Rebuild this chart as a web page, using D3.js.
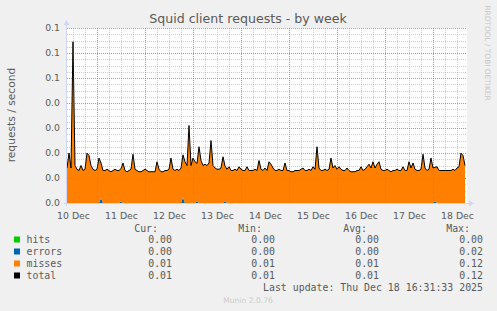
<!DOCTYPE html>
<html>
<head>
<meta charset="utf-8">
<script src="https://cdn.jsdelivr.net/npm/d3@7"></script>
<style>
  body { margin: 0; background: #f0f0f0; }
  svg { display: block; }
  text { font-family: "DejaVu Sans", sans-serif; fill: #5a5a5a; }
  .mono { font-family: "DejaVu Sans Mono", monospace; }
</style>
</head>
<body>
<svg id="chart" width="497" height="311"></svg>
<script>
// samples are one hour apart, first one at 10 Dec 09:00
var startTime = Date.UTC(2025, 11, 10, 9, 0, 0);
var endTime = Date.UTC(2025, 11, 18, 17, 0, 0);

var misses = [
	0.028, 0.040, 0.028, 0.129, 0.030, 0.027, 0.026, 0.030, 0.026, 0.027,
	0.040, 0.038, 0.030, 0.027, 0.026, 0.027, 0.036, 0.028, 0.026, 0.026,
	0.027, 0.026, 0.025, 0.026, 0.027, 0.026, 0.026, 0.026, 0.032, 0.026,
	0.025, 0.026, 0.027, 0.039, 0.027, 0.026, 0.025, 0.025, 0.026, 0.027,
	0.026, 0.025, 0.025, 0.025, 0.025, 0.033, 0.027, 0.025, 0.025, 0.026,
	0.026, 0.027, 0.036, 0.027, 0.026, 0.027, 0.026, 0.028, 0.034, 0.033,
	0.030, 0.062, 0.030, 0.036, 0.033, 0.030, 0.045, 0.034, 0.030, 0.031,
	0.030, 0.032, 0.050, 0.030, 0.028, 0.027, 0.027, 0.028, 0.037, 0.028,
	0.027, 0.029, 0.026, 0.026, 0.027, 0.026, 0.029, 0.027, 0.026, 0.026,
	0.029, 0.026, 0.026, 0.026, 0.027, 0.026, 0.034, 0.027, 0.026, 0.028,
	0.026, 0.033, 0.031, 0.028, 0.026, 0.026, 0.027, 0.026, 0.026, 0.032,
	0.026, 0.026, 0.025, 0.025, 0.026, 0.026, 0.026, 0.027, 0.028, 0.026,
	0.026, 0.027, 0.026, 0.029, 0.027, 0.045, 0.028, 0.026, 0.026, 0.027,
	0.026, 0.027, 0.036, 0.028, 0.030, 0.027, 0.029, 0.027, 0.026, 0.026,
	0.028, 0.026, 0.025, 0.025, 0.025, 0.026, 0.026, 0.029, 0.026, 0.027,
	0.029, 0.031, 0.028, 0.033, 0.028, 0.031, 0.033, 0.027, 0.026, 0.026,
	0.027, 0.026, 0.025, 0.026, 0.026, 0.027, 0.026, 0.026, 0.029, 0.026,
	0.026, 0.033, 0.028, 0.032, 0.027, 0.026, 0.026, 0.027, 0.039, 0.028,
	0.026, 0.027, 0.036, 0.028, 0.027, 0.029, 0.026, 0.026, 0.026, 0.026,
	0.026, 0.026, 0.026, 0.027, 0.026, 0.028, 0.029, 0.040, 0.038, 0.030
];
var errors = [
	0, 0, 0, 0, 0, 0, 0, 0, 0, 0, 0, 0, 0, 0, 0, 0, 0, 0.004, 0, 0,
	0, 0, 0, 0, 0, 0, 0, 0.0015, 0, 0, 0, 0, 0, 0, 0, 0, 0, 0, 0, 0,
	0, 0, 0, 0, 0, 0, 0, 0, 0, 0, 0, 0, 0, 0, 0, 0, 0, 0, 0.0045, 0,
	0, 0, 0, 0, 0, 0.0016, 0, 0, 0, 0, 0, 0, 0, 0, 0, 0, 0, 0, 0, 0.0016,
	0, 0, 0, 0, 0, 0, 0, 0, 0, 0, 0, 0, 0, 0, 0, 0, 0, 0, 0, 0,
	0, 0, 0, 0, 0, 0, 0, 0, 0, 0, 0, 0, 0, 0, 0, 0, 0, 0, 0, 0,
	0, 0, 0, 0, 0, 0, 0, 0, 0, 0, 0, 0, 0, 0, 0, 0, 0, 0, 0, 0,
	0, 0, 0, 0, 0, 0, 0, 0, 0, 0, 0, 0, 0, 0, 0, 0, 0, 0, 0, 0,
	0, 0, 0, 0, 0, 0, 0, 0, 0, 0, 0, 0, 0, 0, 0, 0, 0, 0, 0, 0,
	0, 0, 0, 0, 0.0016, 0, 0, 0, 0, 0, 0, 0, 0, 0, 0, 0, 0, 0, 0, 0
];
var hits = [
	0, 0, 0, 0, 0, 0, 0, 0, 0, 0, 0, 0, 0, 0, 0, 0, 0, 0, 0, 0,
	0, 0, 0, 0, 0, 0, 0, 0, 0, 0, 0, 0, 0, 0, 0, 0, 0, 0, 0, 0,
	0, 0, 0, 0, 0, 0, 0, 0, 0, 0, 0, 0, 0, 0, 0, 0, 0, 0, 0, 0,
	0, 0, 0, 0, 0, 0, 0, 0, 0, 0, 0, 0, 0, 0, 0, 0, 0, 0, 0, 0,
	0, 0, 0, 0, 0, 0, 0, 0, 0, 0, 0, 0, 0, 0, 0, 0, 0, 0, 0, 0,
	0, 0, 0, 0, 0, 0, 0, 0, 0, 0, 0, 0, 0, 0, 0, 0, 0, 0, 0, 0,
	0, 0, 0, 0, 0, 0, 0, 0, 0, 0, 0, 0, 0, 0, 0, 0, 0, 0, 0, 0,
	0, 0, 0, 0, 0, 0, 0, 0, 0, 0, 0, 0, 0, 0, 0, 0, 0, 0, 0, 0,
	0, 0, 0, 0, 0, 0, 0, 0, 0, 0, 0, 0, 0, 0, 0, 0, 0, 0, 0, 0,
	0, 0, 0, 0, 0, 0, 0, 0, 0, 0, 0, 0, 0, 0, 0, 0, 0, 0, 0, 0
];

var yTickValues = [0, 0.02, 0.04, 0.06, 0.08, 0.10, 0.12, 0.14];
var yTickLabels = ["0.0", "0.0", "0.0", "0.0", "0.0", "0.1", "0.1", "0.1"];

var seriesNames = ["hits", "errors", "misses", "total"];
var seriesColors = ["#00cc00", "#0066b3", "#ff8000", "#000000"];
var curValues = ["0.00", "0.00", "0.01", "0.01"];
var minValues = ["0.00", "0.00", "0.01", "0.01"];
var avgValues = ["0.00", "0.00", "0.01", "0.01"];
var maxValues = ["0.00", "0.02", "0.12", "0.12"];

function drawChart() {
	var HOUR = 3600 * 1000;
	var rows = misses.map(function(m, i) {
		return {t: new Date(startTime + i * HOUR), hits: hits[i], errors: errors[i], misses: m};
	});

	var svg = d3.select("#chart");
	var pLeft = 67, pRight = 467, pTop = 28, pBottom = 203;

	var x = d3.scaleUtc().domain([new Date(startTime), new Date(endTime)]).range([pLeft, pRight]);
	var y = d3.scaleLinear().domain([0, 0.14]).range([pBottom, pTop]);

	svg.append("rect")
		.attr("x", pLeft).attr("y", pTop)
		.attr("width", pRight - pLeft).attr("height", pBottom - pTop)
		.attr("fill", "#ffffff");

	// grid
	var days = d3.utcDay.range(new Date(startTime), new Date(endTime));
	var sixHours = d3.utcHour.every(6).range(new Date(startTime), new Date(endTime));
	var minorY = d3.range(0, 0.1401, 0.005);

	function grid(g, color) {
		g.select(".domain").remove();
		g.selectAll("line").attr("stroke", color).attr("stroke-dasharray", "1,1").attr("shape-rendering", "crispEdges");
		g.selectAll("text").remove();
	}
	function drawGrid(minorColor, majorColor) {
		var gg = svg.append("g");
		gg.append("g")
			.attr("transform", "translate(0," + pBottom + ")")
			.call(d3.axisBottom(x).tickValues(sixHours).tickSize(-(pBottom - pTop)))
			.call(grid, minorColor);
		gg.append("g")
			.attr("transform", "translate(" + pLeft + ",0)")
			.call(d3.axisLeft(y).tickValues(minorY).tickSize(-(pRight - pLeft)))
			.call(grid, minorColor);
		gg.append("g")
			.attr("transform", "translate(0," + pBottom + ")")
			.call(d3.axisBottom(x).tickValues(days).tickSize(-(pBottom - pTop)))
			.call(grid, majorColor);
		gg.append("g")
			.attr("transform", "translate(" + pLeft + ",0)")
			.call(d3.axisLeft(y).tickValues(yTickValues).tickSize(-(pRight - pLeft)))
			.call(grid, majorColor);
	}
	drawGrid("rgba(150,150,150,0.38)", "rgba(225,80,80,0.42)");

	// stacked areas
	var stack = d3.stack().keys(["hits", "errors", "misses"]);
	var layers = stack(rows);
	var area = d3.area()
		.x(function(d) { return x(d.data.t); })
		.y0(function(d) { return y(d[0]); })
		.y1(function(d) { return y(d[1]); });

	svg.append("g").selectAll("path")
		.data(layers)
		.enter().append("path")
		.attr("d", area)
		.attr("fill", function(d, i) { return seriesColors[i]; });

	var line = d3.line()
		.x(function(d) { return x(d.data.t); })
		.y(function(d) { return y(d[1]); });
	svg.append("path")
		.datum(layers[2])
		.attr("d", line)
		.attr("fill", "none")
		.attr("stroke", "#000")
		.attr("stroke-width", 1);

	// faint grid over the areas
	drawGrid("rgba(150,150,150,0.12)", "rgba(200,60,60,0.15)");

	// axes lines + arrows
	var axisColor = "#cfd6f8";
	svg.append("line").attr("x1", pLeft - 3).attr("x2", pRight + 3).attr("y1", pBottom + 0.5).attr("y2", pBottom + 0.5)
		.attr("stroke", axisColor);
	svg.append("line").attr("x1", pLeft - 0.5).attr("x2", pLeft - 0.5).attr("y1", pBottom + 3).attr("y2", pTop - 4)
		.attr("stroke", axisColor);
	svg.append("path").attr("d", "M" + (pRight + 2) + "," + (pBottom - 2.5) + "L" + (pRight + 7) + "," + (pBottom + 0.5) + "L" + (pRight + 2) + "," + (pBottom + 3.5) + "Z")
		.attr("fill", axisColor);
	svg.append("path").attr("d", "M" + (pLeft - 3.5) + "," + (pTop - 3) + "L" + (pLeft - 0.5) + "," + (pTop - 8) + "L" + (pLeft + 2.5) + "," + (pTop - 3) + "Z")
		.attr("fill", axisColor);

	// tick labels
	var xLabels = days.map(function(d) { return new Date(d.getTime() + 12 * HOUR); });
	xLabels.unshift(new Date(Date.UTC(2025, 11, 10, 12)));
	var xAxis = svg.append("g")
		.attr("transform", "translate(0," + pBottom + ")")
		.call(d3.axisBottom(x).tickValues(xLabels).tickSize(0).tickPadding(9).tickFormat(d3.utcFormat("%d %b")));
	xAxis.select(".domain").remove();
	xAxis.selectAll("text").attr("font-size", "9.3px").attr("fill", "#5a5a5a").attr("font-family", "DejaVu Sans");

	var yAxis = svg.append("g")
		.attr("transform", "translate(" + pLeft + ",0)")
		.call(d3.axisLeft(y).tickValues(yTickValues).tickSize(0).tickPadding(7)
			.tickFormat(function(d, i) { return yTickLabels[i]; }));
	yAxis.select(".domain").remove();
	yAxis.selectAll("text").attr("font-size", "9.3px").attr("fill", "#5a5a5a").attr("font-family", "DejaVu Sans");

	// titles
	svg.append("text").attr("x", 248).attr("y", 23).attr("text-anchor", "middle")
		.attr("font-size", "12.6px").text("Squid client requests - by week");
	svg.append("text").attr("transform", "translate(15,115) rotate(-90)").attr("text-anchor", "middle")
		.attr("font-size", "10.7px").text("requests / second");
	svg.append("text").attr("transform", "translate(485,53) rotate(90)").attr("text-anchor", "middle")
		.attr("font-size", "7.4px").style("fill", "#c8c8c8").text("RRDTOOL / TOBI OETIKER");
	svg.append("text").attr("x", 248).attr("y", 303).attr("text-anchor", "middle")
		.attr("font-size", "7.6px").style("fill", "#cccccc").text("Munin 2.0.76");

	// legend
	var lg = svg.append("g").attr("font-size", "9.9px");
	function mtext(xx, yy, s, anchor) {
		lg.append("text").attr("class", "mono").attr("x", xx).attr("y", yy)
			.attr("text-anchor", anchor || "start").text(s);
	}
	mtext(158, 232, "Cur:", "end");
	mtext(262, 232, "Min:", "end");
	mtext(367, 232, "Avg:", "end");
	mtext(470, 232, "Max:", "end");
	seriesNames.forEach(function(name, i) {
		var yy = 243 + i * 12;
		lg.append("rect").attr("x", 14).attr("y", yy - 6.5).attr("width", 6).attr("height", 6)
			.attr("fill", seriesColors[i]);
		mtext(26.5, yy, name);
		mtext(172, yy, curValues[i], "end");
		mtext(275, yy, minValues[i], "end");
		mtext(379, yy, avgValues[i], "end");
		mtext(483, yy, maxValues[i], "end");
	});
	mtext(483, 291, "Last update: Thu Dec 18 16:31:33 2025", "end");
}

drawChart();
</script>
</body>
</html>
